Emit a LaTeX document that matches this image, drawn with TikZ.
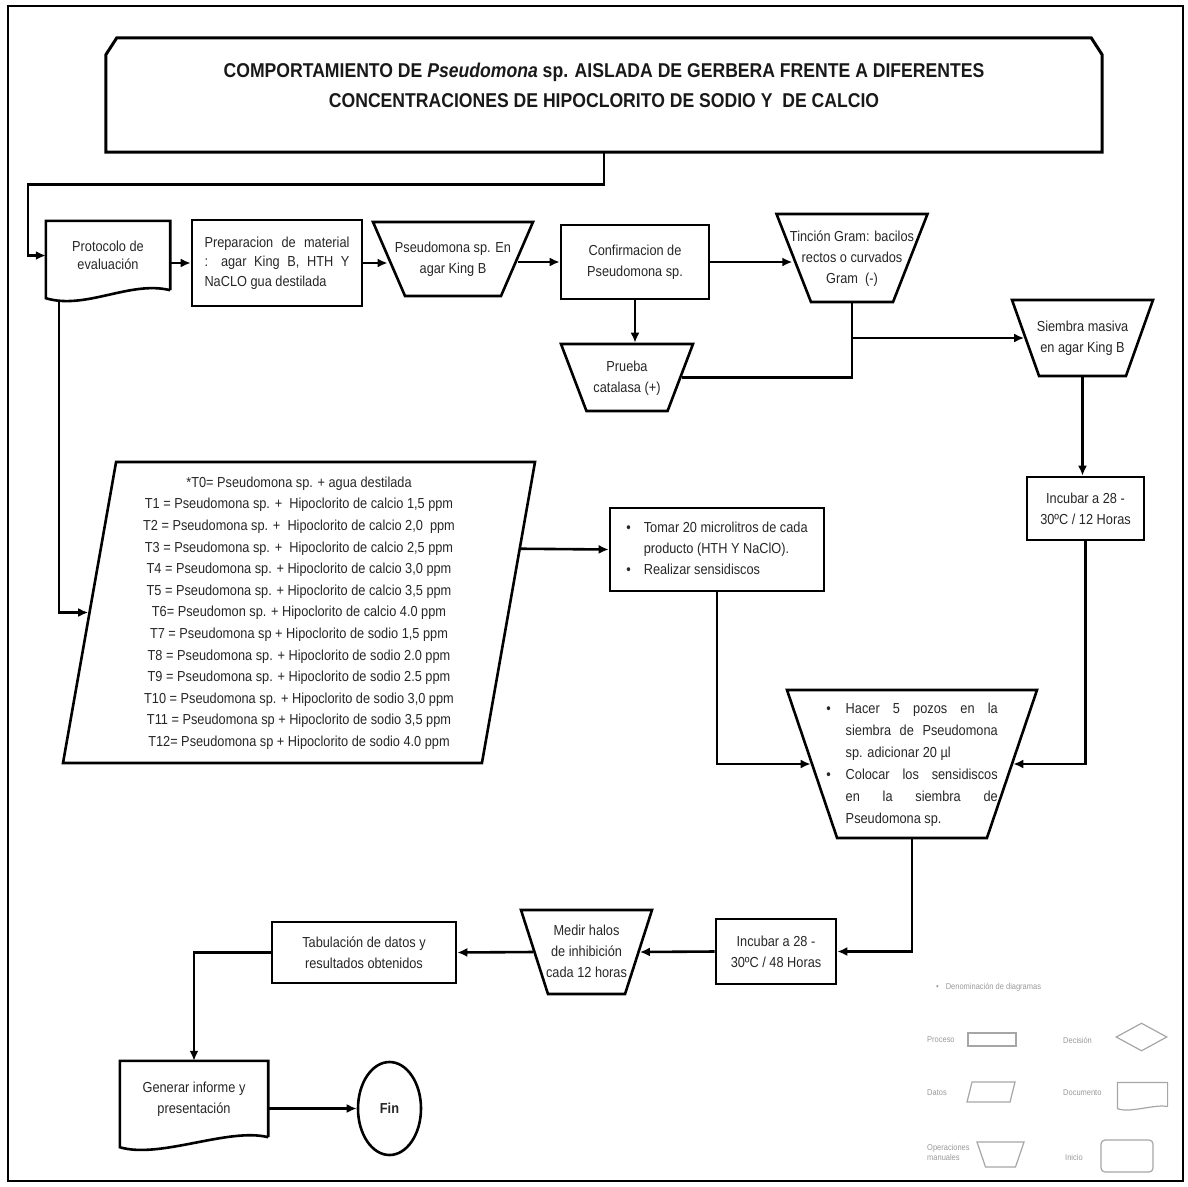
\documentclass[tikz,border=0pt]{standalone}
\usepackage{fontspec}
\setmainfont{Liberation Sans}[FakeStretch=0.88]
\usetikzlibrary{shapes.geometric,arrows.meta,calc}
\newcommand\midtext[1]{\makebox[0pt]{\raisebox{-3.6pt}{\begin{tabular}{@{}c@{}}#1\end{tabular}}}}
\newcommand\docline[3]{\draw[#2] (#1.south east) -- (#1.north east) -- (#1.north west) -- ([yshift=-#3]#1.south west) .. controls +(40,12) and +(-40,-10) .. (#1.south east);}
\begin{document}
\begin{tikzpicture}[x=1pt,y=-1pt,font=\fontsize{14.5pt}{21pt}\selectfont,
  box/.style={draw,line width=2.6pt,inner sep=0pt,align=center,text=black!85},
  trap/.style={box,trapezium,shape border rotate=180,trapezium stretches body=true,trapezium left angle=#1,trapezium right angle=#1},
  doc/.style={inner sep=0pt,align=center,text=black!85},
  boxline/.style={line width=2.6pt,line join=miter},
  link/.style={line width=2.6pt},
  arr/.style={line width=2.6pt,-{Latex[length=10pt,width=9pt]}},
  lg/.style={font=\fontsize{8.5pt}{10pt}\selectfont,text=black!40,inner sep=0pt},
  lgshape/.style={draw=black!35,line width=1.2pt,inner sep=0pt}]
\useasboundingbox (0,0) rectangle (1188,1186);
\draw[line width=1.5pt] (8,6) rectangle (1183,1181);
\node[doc,minimum width=996,minimum height=114] (title) at (604,95) {};
\draw[boxline,line width=3pt] (title.south west) -- ([yshift=-17pt]title.north west) -- ([xshift=11pt]title.north west) -- ([xshift=-11pt]title.north east) -- ([yshift=-17pt]title.north east) -- (title.south east) -- cycle;
\node[font=\bfseries\fontsize{20pt}{30pt}\selectfont,align=center,text=black!90] (titletxt) at (604,85) {COMPORTAMIENTO DE \textit{Pseudomona} sp. AISLADA DE GERBERA FRENTE A DIFERENTES\\CONCENTRACIONES DE HIPOCLORITO DE SODIO Y~ DE CALCIO};
\node[doc,minimum width=124,minimum height=69,font=\fontsize{14.5pt}{18pt}\selectfont] (proto) at (108,255.5) {Protocolo de\\evaluación};
\node[box,minimum width=170,minimum height=86,align=left,font=\fontsize{14.5pt}{19.5pt}\selectfont] (prep) at (277,263) {\makebox[145pt][s]{Preparacion de material}\\\makebox[145pt][s]{: agar King B, HTH Y}\\NaCLO gua destilada};
\node[trap=66.6,minimum width=160,minimum height=74,text height=37pt,text depth=37pt] (pseud) at (453,259) {\midtext{Pseudomona sp. En\\agar King B}};
\node[box,minimum width=148,minimum height=74] (confirm) at (635,262) {Confirmacion de\\Pseudomona sp.};
\node[trap=68.6,minimum width=151,minimum height=88,text height=44pt,text depth=44pt] (tincion) at (852,258) {\midtext{Tinción Gram: bacilos\\rectos o curvados\\Gram~ (-)}};
\node[trap=69.2,minimum width=132,minimum height=67,text height=33.5pt,text depth=33.5pt] (prueba) at (627,377.5) {\midtext{Prueba\\catalasa (+)}};
\node[trap=70.4,minimum width=141,minimum height=76,text height=38pt,text depth=38pt] (siembra) at (1082.5,338) {\midtext{Siembra masiva\\en agar King B}};
\node[box,minimum width=117,minimum height=63] (incub12) at (1085.5,508.5) {Incubar a 28 -\\30ºC / 12 Horas};
\node[box,trapezium,trapezium stretches body=true,trapezium left angle=80,trapezium right angle=100,minimum width=472,minimum height=301,text height=150.5pt,text depth=150.5pt,font=\fontsize{14.5pt}{21.6pt}\selectfont] (param) at (299,612.5) {\midtext{*T0= Pseudomona sp. + agua destilada\\
T1 = Pseudomona sp. +~ Hipoclorito de calcio 1,5 ppm\\
T2 = Pseudomona sp. +~ Hipoclorito de calcio 2,0~ ppm\\
T3 = Pseudomona sp. +~ Hipoclorito de calcio 2,5 ppm\\
T4 = Pseudomona sp. + Hipoclorito de calcio 3,0 ppm\\
T5 = Pseudomona sp. + Hipoclorito de calcio 3,5 ppm\\
T6= Pseudomon sp. + Hipoclorito de calcio 4.0 ppm\\
T7 = Pseudomona sp + Hipoclorito de sodio 1,5 ppm\\
T8 = Pseudomona sp. + Hipoclorito de sodio 2.0 ppm\\
T9 = Pseudomona sp. + Hipoclorito de sodio 2.5 ppm\\
T10 = Pseudomona sp. + Hipoclorito de sodio 3,0 ppm\\
T11 = Pseudomona sp + Hipoclorito de sodio 3,5 ppm\\
T12= Pseudomona sp + Hipoclorito de sodio 4.0 ppm}};
\node[box,minimum width=214,minimum height=83] (tomar) at (717,549.5) {\begin{tabular}{@{}l@{\hspace{13pt}}l@{}}\textbullet&Tomar 20 microlitros de cada\\&producto (HTH Y NaClO).\\\textbullet&Realizar sensidiscos\end{tabular}};
\node[trap=71.3,minimum width=250,minimum height=148,text height=74pt,text depth=74pt,font=\fontsize{14.5pt}{22pt}\selectfont] (hacer) at (912,764) {\makebox[0pt]{\raisebox{-3.6pt}{\begin{tabular}{@{}l@{\hspace{15pt}}l@{}}\textbullet&\makebox[152pt][s]{Hacer 5 pozos en la}\\&\makebox[152pt][s]{siembra de Pseudomona}\\&sp. adicionar 20 µl\\\textbullet&\makebox[152pt][s]{Colocar los sensidiscos}\\&\makebox[152pt][s]{en la siembra de}\\&Pseudomona sp.\end{tabular}}}};
\node[box,minimum width=120,minimum height=65] (incub48) at (776,951.5) {Incubar a 28 -\\30ºC / 48 Horas};
\node[trap=72.2,minimum width=131,minimum height=84,text height=42pt,text depth=42pt] (medir) at (586.5,952) {\midtext{Medir halos\\de inhibición\\cada 12 horas}};
\node[box,minimum width=184,minimum height=61] (tabul) at (364,952.5) {Tabulación de datos y\\resultados obtenidos};
\node[doc,minimum width=148,minimum height=76] (gener) at (194,1099) {Generar informe y\\presentación};
\node[box,ellipse,minimum width=63,minimum height=93,font=\bfseries\fontsize{14.5pt}{18pt}\selectfont] (fin) at (389.5,1108.5) {Fin};
\docline{proto}{boxline}{8pt}
\docline{gener}{boxline}{10pt}
\draw[arr] (title.south) -- ++(0,32) -| ([xshift=-18pt]proto.west) -- (proto.west);
\draw[arr] (prep.west -| proto.east) -- (prep.west);
\draw[arr] (prep.east) -- (prep.east -| pseud.west);
\draw[arr] (pseud.east |- confirm.west) -- (confirm.west);
\draw[arr] (confirm.east) -- (confirm.east -| tincion.west);
\draw[arr] (confirm.south) -- (confirm.south |- prueba.north);
\draw[link] (prueba.east) -| (tincion.south);
\draw[arr] (tincion.south |- siembra.west) -- (siembra.west);
\draw[arr] (siembra.south) -- (siembra.south |- incub12.north);
\draw[arr] (incub12.south) |- (hacer.east);
\draw[arr] ([xshift=13pt,yshift=-10.5pt]proto.south west) |- (param.west);
\draw[arr] ($(param.top right corner)!0.29!(param.bottom right corner)$) -- (tomar.west);
\draw[arr] (tomar.south) |- (hacer.west);
\draw[arr] (hacer.south) |- (incub48.east);
\draw[arr] (incub48.west) -- (medir.east);
\draw[arr] (medir.west) -- (tabul.east);
\draw[arr] (tabul.west) -| (gener.north);
\draw[arr] (gener.east |- fin.west) -- (fin.west);
\node[lg,anchor=west] (lgtit) at (936,987) {\textbullet\hspace{7pt}Denominación de diagramas};
\node[lg,anchor=west] (lgproc) at (927,1040) {Proceso};
\node[lgshape,minimum width=48,minimum height=13] (lgprocs) at (992,1039.5) {};
\node[lg,anchor=west] (lgdec) at (1063,1040) {Decisión};
\node[lgshape,diamond,minimum width=51,minimum height=28] (lgdecs) at (1141.5,1037) {};
\node[lg,anchor=west] (lgdat) at (927,1093) {Datos};
\node[lgshape,trapezium,trapezium stretches body=true,trapezium left angle=76,trapezium right angle=104,minimum width=48,minimum height=20,text height=10pt,text depth=10pt] (lgdats) at (991,1092) {};
\node[lg,anchor=west] (lgdoc) at (1063,1093) {Documento};
\node[lgshape,draw=none,minimum width=49,minimum height=23] (lgdocs) at (1142.5,1094.5) {};
\draw[lgshape] (lgdocs.south east) -- (lgdocs.north east) -- (lgdocs.north west) -- ([yshift=-2pt]lgdocs.south west) .. controls +(12,5) and +(-12,-3) .. (lgdocs.south east);
\node[lg,anchor=west,align=left] (lgman) at (927,1152) {Operaciones\\manuales};
\node[lgshape,trapezium,shape border rotate=180,trapezium stretches body=true,trapezium left angle=71.2,trapezium right angle=71.2,minimum width=47,minimum height=25,text height=12.5pt,text depth=12.5pt] (lgmans) at (1000.5,1154.5) {};
\node[lg,anchor=west] (lgini) at (1065,1157) {Inicio};
\node[lgshape,rounded corners=4pt,minimum width=52,minimum height=32] (lginis) at (1127,1156) {};
\end{tikzpicture}
\end{document}
